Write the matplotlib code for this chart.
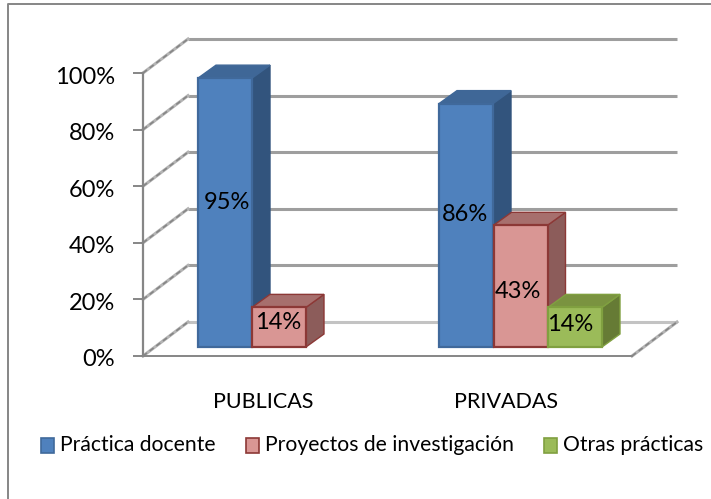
import matplotlib
matplotlib.use("Agg")
import matplotlib.pyplot as plt
from matplotlib.patches import Polygon, Rectangle
from matplotlib.transforms import ScaledTranslation

CATEGORIES = ["PUBLICAS", "PRIVADAS"]
SERIES = ["Práctica docente", "Proyectos de investigación", "Otras prácticas"]
PUBLICAS = [95, 14]
PRIVADAS = [86, 43, 14]
YTICKS = [0, 20, 40, 60, 80, 100]

FRONT = ["#4F81BD", "#D99694", "#9BBB59"]
TOP = ["#3F6797", "#A76F6D", "#7A9340"]
SIDE = ["#32547D", "#8C5C5A", "#667B35"]
EDGE = ["#40699B", "#8C3836", "#80A040"]
GREY = "#868686"
LIGHT = "#B4B4B4"

W, H = 711, 499
plt.rcParams["font.family"] = ["Lato", "DejaVu Sans"]

fig = plt.figure(figsize=(W / 100, H / 100), dpi=100)
# axes box = front plane of the 3d chart, in pixels
ax = fig.add_axes([143 / W, 1 - 356 / H, (632 - 143) / W, (356 - 73) / H])
PX_Y = 2.83
ax.set_xlim(143, 632)
ax.set_ylim(0, 100)
ax.patch.set_alpha(0)
for s in ["top", "right"]:
    ax.spines[s].set_visible(False)
ax.spines["left"].set_color(GREY)
ax.spines["left"].set_linewidth(1.6)
ax.spines["bottom"].set_color(GREY)
ax.spines["bottom"].set_linewidth(1.4)

ax.set_yticks(YTICKS)
ax.set_yticklabels([f"{v}%" for v in YTICKS], fontsize=17, color="black")
ax.tick_params(axis="y", length=7, width=1.4, color=GREY, pad=13)
for lab in ax.get_yticklabels():
    lab.set_transform(lab.get_transform() + ScaledTranslation(0, -0.02, fig.dpi_scale_trans))

ax.set_xticks([263, 506])
ax.set_xticklabels(CATEGORIES, fontsize=15.5)
ax.tick_params(axis="x", length=0, pad=26)

# walls: offset between front plane and back plane
DX, DY = 45, 34 / PX_Y
for v in YTICKS:
    ax.plot([143 + DX, 632 + DX], [v + DY, v + DY], color=GREY if v else LIGHT,
            lw=2.2, alpha=0.8, clip_on=False, zorder=1, solid_capstyle="butt")
    ax.plot([143, 143 + DX], [v, v + DY], color=LIGHT, lw=2.2, clip_on=False, zorder=1)
    ax.plot([143, 143 + DX], [v, v + DY], color=GREY, lw=1.2, ls=(0, (3, 2)), clip_on=False, zorder=1)
ax.plot([632, 632 + DX], [0, DY], color=LIGHT, lw=2.2, clip_on=False, zorder=1)
ax.plot([632, 632 + DX], [0, DY], color=GREY, lw=1.2, ls=(0, (3, 2)), clip_on=False, zorder=1)

BASE = 9 / PX_Y  # bars stand a bit behind the front edge of the floor
BAR_W = 54
DEPTH_X, DEPTH_Y = 18, 13 / PX_Y


def draw_bar(x0, value, i, z, label_dx, label_dy):
    y0, y1 = BASE, BASE + value
    x1 = x0 + BAR_W
    ax.add_patch(Polygon([(x1, y0), (x1 + DEPTH_X, y0 + DEPTH_Y), (x1 + DEPTH_X, y1 + DEPTH_Y), (x1, y1)],
                         fc=SIDE[i], ec=EDGE[i] if i else SIDE[i], lw=1, clip_on=False, zorder=z))
    ax.add_patch(Polygon([(x0, y1), (x0 + DEPTH_X, y1 + DEPTH_Y), (x1 + DEPTH_X, y1 + DEPTH_Y), (x1, y1)],
                         fc=TOP[i], ec=EDGE[i] if i else TOP[i], lw=1, clip_on=False, zorder=z))
    ax.add_patch(Rectangle((x0, y0), BAR_W, value, fc=FRONT[i], ec=EDGE[i], lw=1.6,
                           clip_on=False, zorder=z + 0.1))
    ax.text(x0 + BAR_W / 2 + label_dx, y0 + value / 2 + label_dy / PX_Y, f"{value}%", ha="center", va="center",
            fontsize=17, color="black", zorder=z + 0.2)


for j, v in enumerate(PUBLICAS):
    draw_bar(198 + j * BAR_W, v, j, 3 + j, [2, -1][j], [10, 5][j])
for j, v in enumerate(PRIVADAS):
    draw_bar(439 + j * (BAR_W + 0.5), v, j, 3 + j, [-1, -3, -5][j], [11, -5, 3][j])

# legend, placed by hand like the original
for name, i, xs, xt in zip(SERIES, range(3), [41, 246, 544], [60, 265, 563]):
    fig.add_artist(Rectangle((xs / W, 1 - 453 / H), 13 / W, 15 / H, transform=fig.transFigure,
                             fc=FRONT[i], ec=EDGE[i], lw=1.2))
    fig.text(xt / W, 1 - 445 / H, name, ha="left", va="center", fontsize=15.2)

# chart frame
fig.add_artist(plt.Line2D([8 / W, 8 / W, 1], [0, 1 - 4 / H, 1 - 4 / H], color=GREY, lw=1.4,
                          transform=fig.transFigure))

fig.savefig("out.png", dpi=100)
